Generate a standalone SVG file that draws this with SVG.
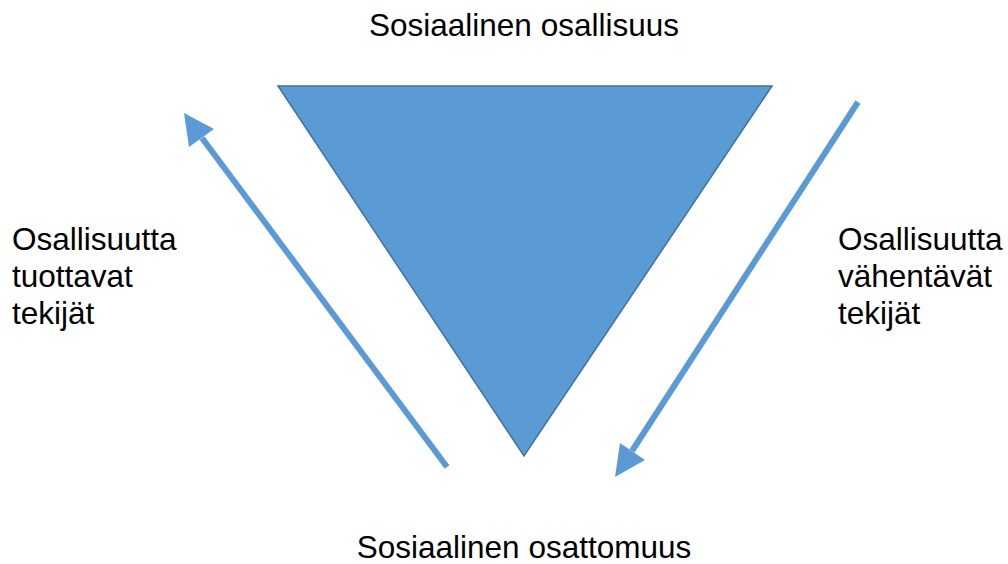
<svg xmlns="http://www.w3.org/2000/svg" width="1008" height="564" viewBox="0 0 1008 564">
<style>
text{font-family:"Liberation Sans",Arial,sans-serif;font-size:31.5px;fill:#000}
.c{text-anchor:middle}
.arr{stroke:#5b9bd5;stroke-width:6;fill:none}
.head{fill:#5b9bd5}
</style>
<rect width="1008" height="564" fill="#fff"/>
<g id="triangle">
<polygon points="278,86 772,86 524,456" fill="#5b9bd5" stroke="#41719c" stroke-width="1.5"/>
</g>
<g id="top-label"><text class="c" x="524" y="36">Sosiaalinen osallisuus</text></g>
<g id="bottom-label"><text class="c" x="524" y="558">Sosiaalinen osattomuus</text></g>
<g id="left-label"><text x="12" y="250">Osallisuutta</text><text x="12" y="287">tuottavat</text><text x="12" y="324">tekijät</text></g>
<g id="right-label"><text x="838" y="250">Osallisuutta</text><text x="838" y="287">vähentävät</text><text x="838" y="324">tekijät</text></g>
<g id="connectors">
<line class="arr" x1="447" y1="467" x2="202" y2="138"/>
<polygon class="head" points="184,113 189,147 214,129"/>
<line class="arr" x1="858" y1="102" x2="632" y2="451"/>
<polygon class="head" points="615,477 620,443 645,460"/>
</g>
</svg>
